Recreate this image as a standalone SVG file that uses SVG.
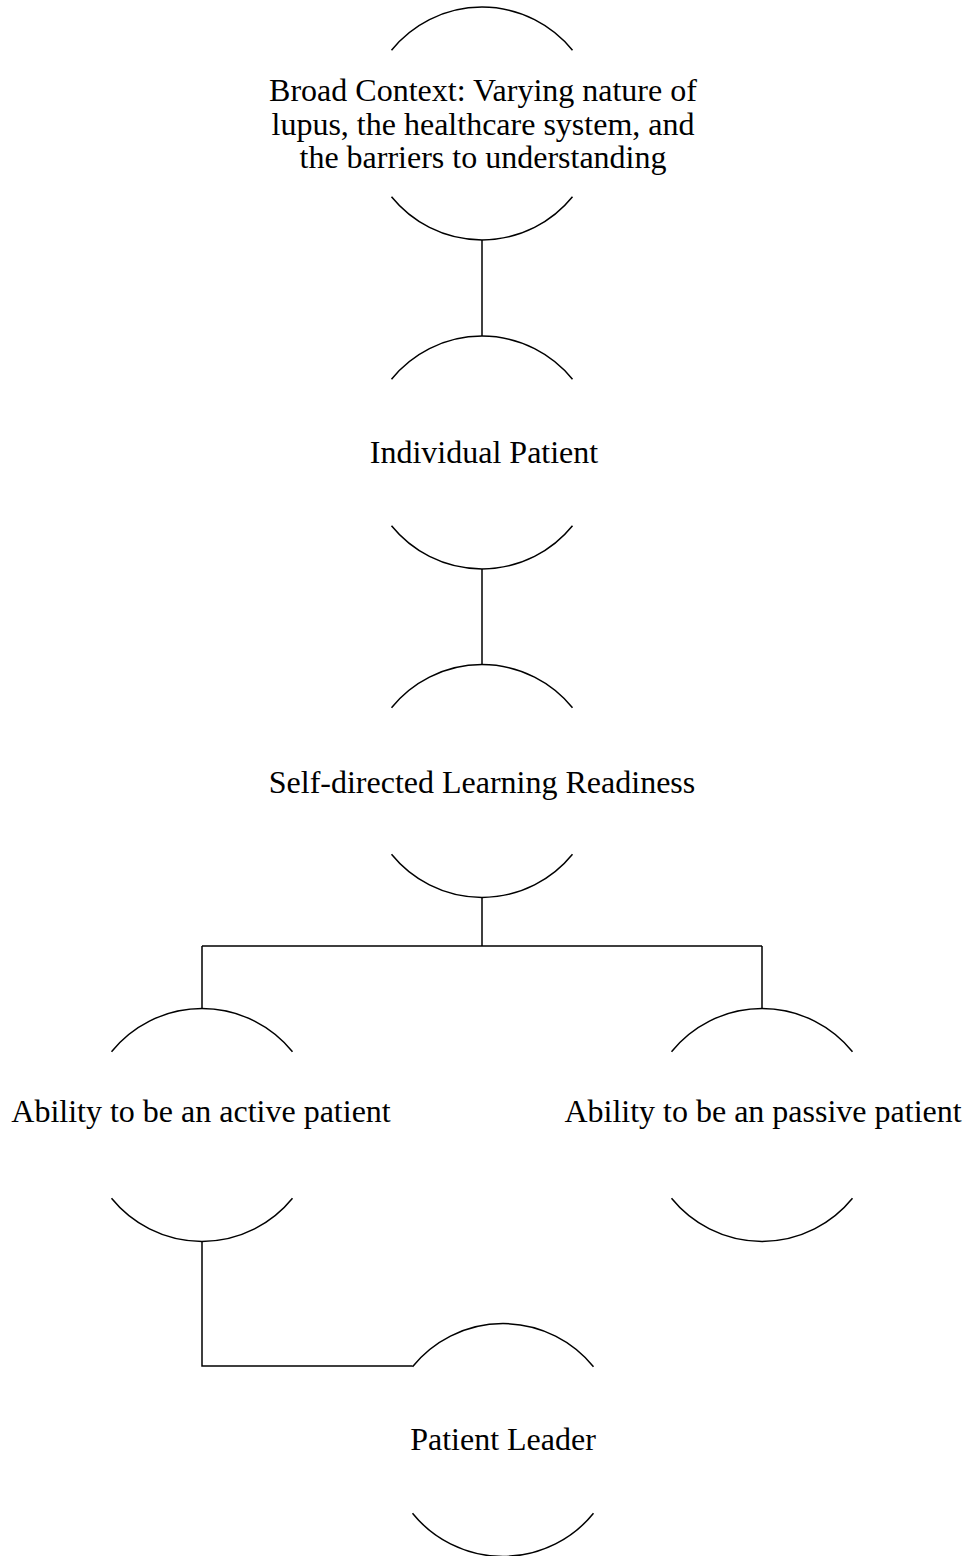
<svg xmlns="http://www.w3.org/2000/svg" width="976" height="1556" viewBox="0 0 976 1556">
<style>
.arc{fill:none;stroke:#000;stroke-width:1.5}
.conn{fill:none;stroke:#000;stroke-width:1.5}
text{font-family:"Liberation Serif","Times New Roman",serif;font-size:32px;fill:#000;text-anchor:middle}
</style>
<rect width="976" height="1556" fill="#fff"/>
<g id="connectors">
<path class="conn" d="M482,240 V336"/>
<path class="conn" d="M482,569 V665"/>
<path class="conn" d="M482,897 V946 M202,946 H762 M202,946 V1008.5 M762,946 V1008.5"/>
<path class="conn" d="M202,1241.5 V1366 H412.5"/>
</g>
<g id="n1">
<path class="arc" d="M391.5,50.2 A116.5,116.5 0 0 1 572.5,50.2 M391.5,196.8 A116.5,116.5 0 0 0 572.5,196.8"/>
<text x="483" y="101">Broad Context: Varying nature of</text>
<text x="483" y="134.5">lupus, the healthcare system, and</text>
<text x="483" y="168">the barriers to understanding</text>
</g>
<g id="n2">
<path class="arc" d="M391.5,379.2 A116.5,116.5 0 0 1 572.5,379.2 M391.5,525.8 A116.5,116.5 0 0 0 572.5,525.8"/>
<text x="484" y="463">Individual Patient</text>
</g>
<g id="n3">
<path class="arc" d="M391.5,707.7 A116.5,116.5 0 0 1 572.5,707.7 M391.5,854.3 A116.5,116.5 0 0 0 572.5,854.3"/>
<text x="482" y="793">Self-directed Learning Readiness</text>
</g>
<g id="n4">
<path class="arc" d="M111.5,1051.7 A116.5,116.5 0 0 1 292.5,1051.7 M111.5,1198.3 A116.5,116.5 0 0 0 292.5,1198.3"/>
<text x="201" y="1122">Ability to be an active patient</text>
</g>
<g id="n5">
<path class="arc" d="M671.5,1051.7 A116.5,116.5 0 0 1 852.5,1051.7 M671.5,1198.3 A116.5,116.5 0 0 0 852.5,1198.3"/>
<text x="763" y="1122">Ability to be an passive patient</text>
</g>
<g id="n6">
<path class="arc" d="M412.5,1366.7 A116.5,116.5 0 0 1 593.5,1366.7 M412.5,1513.3 A116.5,116.5 0 0 0 593.5,1513.3"/>
<text x="503" y="1450">Patient Leader</text>
</g>
</svg>
